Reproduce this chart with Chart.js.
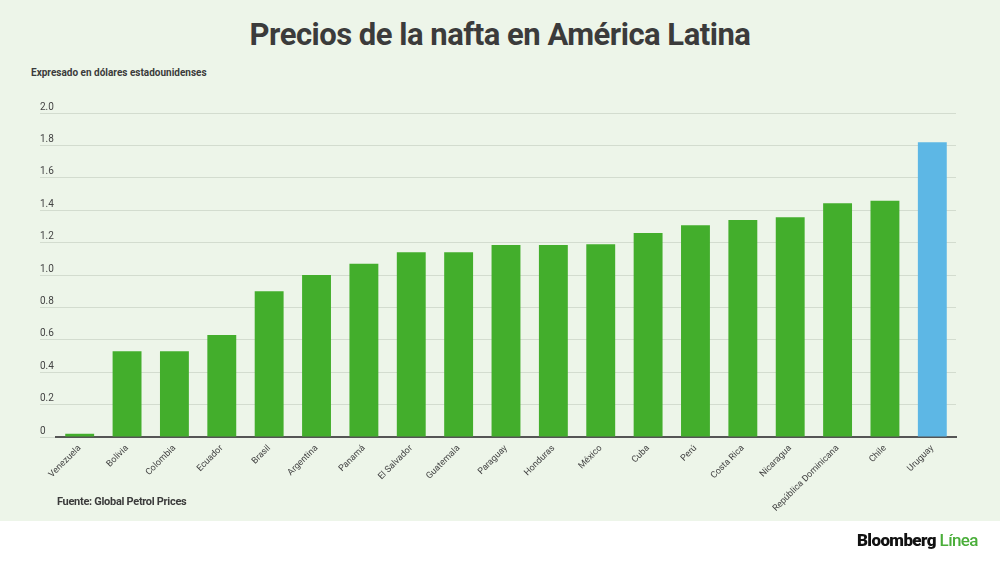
<!DOCTYPE html>
<html lang="es">
<head>
  <meta charset="UTF-8" />
  <title>Precios de la nafta en América Latina</title>
  <script src="https://cdn.jsdelivr.net/npm/chart.js@4"></script>
  <style>
    html, body { margin: 0; padding: 0; background: #fff; font-family: Roboto, "Noto Sans", sans-serif; }
    .page { position: relative; width: 1000px; height: 562px; overflow: hidden; }
    .bg { position: absolute; left: 0; top: 0; width: 1000px; height: 521px; background: #edf5e9; }
    .wrap { position: absolute; left: 0; top: 0; width: 1000px; height: 562px; }
    h1 { position: absolute; left: 0; top: 16px; width: 1000px; margin: 0; text-align: center;
         font-size: 31px; font-weight: 700; letter-spacing: -0.5px; line-height: normal; color: #3b3b3b; }
    .sub { position: absolute; left: 31px; top: 67px; font-size: 10px; font-weight: 700; color: #3b3b3b; }
    .src { position: absolute; left: 57px; top: 495px; font-size: 11px; font-weight: 700; letter-spacing: -0.3px; color: #3b3b3b; }
    .logo { position: absolute; left: 857px; top: 530px; font-size: 17px; font-weight: 900; letter-spacing: -0.6px; color: #111; }
    .logo span { color: #4aae3a; font-weight: 500; }
  </style>
</head>
<body>
  <div class="page">
    <div class="bg"></div>
    <h1>Precios de la nafta en América Latina</h1>
    <div class="sub">Expresado en dólares estadounidenses</div>
    <div class="wrap"><canvas id="chart" width="1000" height="562"></canvas></div>
    <div class="src">Fuente: Global Petrol Prices</div>
    <div class="logo">Bloomberg <span>Línea</span></div>
  </div>

  <script>
    // Países y precio de la nafta (USD por litro)
    const paises = ["Venezuela", "Bolivia", "Colombia", "Ecuador", "Brasil", "Argentina", "Panamá",
      "El Salvador", "Guatemala", "Paraguay", "Honduras", "México", "Cuba", "Perú", "Costa Rica",
      "Nicaragua", "República Dominicana", "Chile", "Uruguay"];
    const precios = [0.02, 0.53, 0.53, 0.63, 0.90, 1.00, 1.07, 1.14, 1.14, 1.185, 1.185, 1.19,
      1.26, 1.307, 1.34, 1.356, 1.443, 1.459, 1.82];
    const yTicks = [0, 0.2, 0.4, 0.6, 0.8, 1.0, 1.2, 1.4, 1.6, 1.8, 2.0];
    const yLabels = ["0", "0.2", "0.4", "0.6", "0.8", "1.0", "1.2", "1.4", "1.6", "1.8", "2.0"];

    const verde = "#43ae2c";
    const azul = "#5db7e5";

    const ctx = document.getElementById("chart").getContext("2d");
    new Chart(ctx, {
      type: "bar",
      data: {
        labels: paises,
        datasets: [{
          data: precios,
          backgroundColor: paises.map(p => p === "Uruguay" ? azul : verde),
          barPercentage: 0.61,
          categoryPercentage: 1
        }]
      },
      options: {
        responsive: false,
        animation: false,
        layout: { padding: { left: 40, right: 44, top: 113, bottom: 40 } },
        plugins: { legend: { display: false }, tooltip: { enabled: false } },
        scales: {
          x: {
            grid: { display: false },
            border: { color: "#555", width: 2 },
            ticks: {
              minRotation: 45, maxRotation: 45, autoSkip: false, padding: -2,
              color: "#444", font: { family: "Roboto", size: 9 }
            },
            afterFit: s => { s.height = 85; }
          },
          y: {
            min: 0, max: 2,
            afterBuildTicks: s => { s.ticks = yTicks.map(v => ({ value: v })); },
            afterFit: s => { s.width = 16; },
            grid: { color: "#d3dccf", lineWidth: 1, tickLength: 16 },
            border: { display: false },
            ticks: {
              crossAlign: "far", labelOffset: -6,
              color: "#444", font: { family: "Roboto", size: 10 },
              callback: (v, i) => yLabels[i]
            }
          }
        }
      }
    });
  </script>
</body>
</html>
